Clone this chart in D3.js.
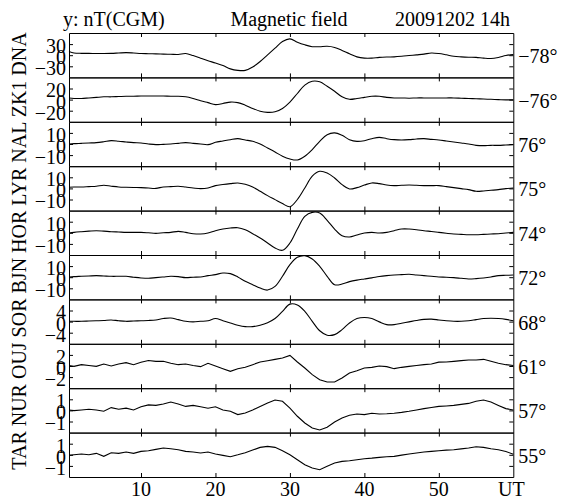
<!DOCTYPE html>
<html>
<head>
<meta charset="UTF-8">
<title>Magnetic field</title>
<script src="https://d3js.org/d3.v7.min.js"></script>
<style>
body { margin: 0; background: #fff; }
svg text { font-family: "Liberation Serif", Tinos, "Times New Roman", "DejaVu Serif", serif; font-size: 20px; fill: #000; }
.axis path, .axis line { stroke: #000; stroke-width: 1; }
.trace { fill: none; stroke: #000; stroke-width: 1.1; }
</style>
</head>
<body>
<svg width="562" height="499" font-family="Liberation Serif, DejaVu Serif, serif"></svg>
<script>
// stations top to bottom, with CGM latitude and y tick step (nT)
var stations = ["DNA", "ZK1", "NAL", "LYR", "HOR", "BJN", "SOR", "OUJ", "NUR", "TAR"]
var latitudes = ["\u221278\u00b0", "\u221276\u00b0", "76\u00b0", "75\u00b0", "74\u00b0", "72\u00b0", "68\u00b0", "61\u00b0", "57\u00b0", "55\u00b0"]
var tickSteps = [30, 20, 10, 10, 10, 10, 4, 2, 1, 1]
var noisy = ["OUJ", "NUR", "TAR"]
var timeTicks = [10, 20, 30, 40, 50]

// sample times, minutes after 14h UT
var minutes = [0.33, 1, 2, 3, 4, 5, 6, 7, 8, 9, 10, 11, 12, 13, 14, 15, 16, 17, 18, 19, 20,
  21, 22, 23, 24, 25, 26, 27, 28, 29, 30, 31, 32, 33, 34, 35, 36, 37, 38, 39, 40,
  41, 42, 43, 44, 45, 46, 47, 48, 49, 50, 51, 52, 53, 54, 55, 56, 57, 58, 59, 60]

var DNA = [10, 6, 5, 5, 4.5, 4.5, 5, 6, 7, 6, 4.5, 4, 3.5, 3, 2.5, 2, 4.5, -1, -8, -15, -21,
  -28, -37, -41, -41, -32, -17, 1, 19, 37, 44, 35, 28, 23, 23, 24, 21, 13, 4, -4.5, -8,
  -8, -6, -5, -4.5, -3, -1, 1, 3, 6, 4.5, 1, -3, -4.5, -5.5, -6, -8, -9, -6, -1, 2]
var ZK1 = [3, 2, 2, 3, 4, 5, 5, 5.5, 6, 6, 6.5, 6.5, 6.5, 6.5, 6, 6, 5, 2, -2, -5.5, -9,
  -7, -4.5, -5.5, -10, -16, -21, -23, -22, -16, -4.5, 11, 26, 33, 32, 24, 15, 5, 0.5, 2, 4,
  6, 6, 4, 3, 3, 2.5, 3, 3, 3, 3, 3, 3, 2.5, 2, 1.5, 1, 0.5, 0, -0.5, -0.5]
var NAL = [0, 0.3, 0.6, 0.9, 1.2, 2, 3, 2.5, 1.8, 1.2, 0.9, 0, -0.6, -0.3, 0, 0.6, 1.2, 0.6, 0, -0.6, 1.5,
  2.7, 3.9, 4.8, 3.6, 2.4, 0, -3.6, -7.2, -11, -13.5, -14.4, -11, -5, 2.4, 8.4, 10, 7.8, 3.9, 2.4, 3,
  4.8, 6, 4.8, 3.9, 3.6, 3.9, 4.5, 4.8, 4.2, 3.6, 2.7, 1.8, 0.9, 0, -1.2, -1.5, -1.2, -1.2, -0.9, -0.6]
var LYR = [1, 1.2, 1.3, 1.6, 1.9, 2.8, 2, 1.3, 1, 0.8, 0.7, 0.3, 0, 1.3, 1.6, 1.9, 1.2, 0.4, -0.2, 0.4, 2.5,
  3.5, 4.3, 4.9, 3.7, 1.3, -2.6, -6.5, -10.1, -13.7, -16.5, -10, 0.4, 11, 15.4, 13.9, 9.4, 3.4, -0.5, 0.7, 3,
  4.9, 4.3, 3, 2.5, 2.8, 3, 2.8, 2.5, 2.5, 2.5, 1.6, 0.7, -0.2, -1.1, -2.6, -2.3, -1.7, -1.1, -0.2, 0.3]
var HOR = [-0.2, 0.4, 1, 1.5, 1.9, 1.5, 1, 0.7, 0.4, 0.4, 0.4, 0, -0.5, 0, 0.4, 1.3, 0.4, -0.8, -1.1, -0.2, 1.9,
  3.4, 4.3, 4.6, 2.8, -0.8, -4.7, -9.2, -13.7, -15.8, -9.2, 3.4, 14.8, 18.4, 17.8, 11.2, 3.4, -2.6, -3.8, -2, -0.2,
  0.4, -0.2, 0.4, 1.9, 3.4, 3.4, 2.8, 1.9, 1.2, 0.4, -0.4, -1.1, -1.4, -1.7, -1.7, -1.4, -1.1, -0.8, -0.2, 0.4]
var BJN = [0.2, 0.5, 0.8, 1.1, 1.4, 1.1, 0.8, 0.8, 0.8, 0, -0.7, -1, -0.4, 0.2, 0.8, 0.5, -0.4, 0, 0.2, 1.4, 2.3,
  3.8, 3.2, 0.2, -3.7, -6.8, -9.8, -11.6, -8.3, 0.8, 11.3, 17.9, 19.4, 16.4, 9.8, 0.8, -6.8, -6.2, -4, -2.6, -1.6,
  -0.6, 0.6, 1.4, 2, 2.3, 2.6, 2, 1.4, 0.8, 0.2, 0, -0.4, -1, -1.6, -1.3, -0.7, 0.2, 1.4, 1.7, 2]
var SOR = [0.1, 0.1, 0.1, 0.2, 0.3, 0.4, 0.6, 0.3, 0.1, 0.2, 0.3, 0.4, 0.6, 1.1, 1.3, 0.7, 0.1, -0.1, 0.1, 0.3, 1.1,
  0.3, -0.5, -1.3, -1.8, -1.8, -1.3, -0.4, 1.1, 3.7, 6.3, 6, 3.7, 0.1, -3.3, -4.9, -4.7, -2.9, -0.5, 1.1, 1.5,
  1.1, -0.1, -1.1, -1.1, -0.6, -0.1, 0.4, 0.8, 0.9, 0.6, 0.3, 0.1, 0.1, 0.3, 0.7, 1.1, 1.2, 1.1, 0.8, 0.3]
var OUJ = [0.1, -0.06, 0.24, 0.1, -0.06, 0.36, 0, 0.36, 0.6, 0.24, 0.66, 1, 0.84, 0.84, 0.48, 0.24, 0.36, 0.1, -0.12, 0.48, 0,
  -0.48, -0.96, -0.48, -0.24, 0.24, 0.72, 0.96, 1.2, 1.44, 1.9, 0.72, -0.36, -1.56, -2.46, -2.88, -2.88, -2.16, -1.26, -0.84, -0.36,
  -0.24, 0, -0.12, -0.48, -0.24, -0.06, 0.1, 0.24, 0.36, 0.7, 0.72, 0.84, 0.96, 1.08, 1.08, 1.2, 0.84, 0.48, 0.24, 0.1]
var NUR = [0.04, -0.02, 0.04, 0.1, 0.04, -0.08, 0.25, 0.1, 0.2, 0.04, 0.33, 0.5, 0.45, 0.57, 0.75, 0.57, 0.36, 0.45, 0.33, 0.2, 0.33,
  0.04, -0.08, -0.38, -0.23, 0.04, 0.36, 0.66, 0.93, 0.82, 0.2, -0.53, -1.13, -1.58, -1.76, -1.52, -1.04, -0.68, -0.44, -0.32, -0.38,
  -0.26, -0.32, -0.3, -0.26, -0.18, -0.08, 0.04, 0.16, 0.26, 0.36, 0.4, 0.45, 0.54, 0.63, 0.82, 0.93, 0.75, 0.45, 0.16, 0.04]
var TAR = [-0.05, 0.01, 0.07, 0, 0.13, -0.14, 0.19, 0.13, 0.25, 0.13, 0.31, 0.37, 0.49, 0.61, 0.55, 0.46, 0.31, 0.25, 0.16, 0.25, 0.07,
  -0.05, -0.17, 0, 0.19, 0.43, 0.67, 0.76, 0.67, 0.37, 0, -0.44, -0.89, -1.19, -1.34, -1.04, -0.74, -0.59, -0.53, -0.44, -0.35,
  -0.3, -0.23, -0.18, -0.14, -0.03, 0.07, 0.16, 0.25, 0.31, 0.37, 0.42, 0.46, 0.53, 0.61, 0.73, 0.67, 0.55, 0.46, 0.3, 0.05]

var series = [DNA, ZK1, NAL, LYR, HOR, BJN, SOR, OUJ, NUR, TAR]

var svg = d3.select("svg")
var plotLeft = 69, plotRight = 513.3, plotTop = 33, plotBottom = 477
var panelH = (plotBottom - plotTop) / stations.length

var x = d3.scaleLinear().domain([0.33, 60]).range([plotLeft, plotRight])

stations.forEach(function(name, i) {
  var y0 = plotTop + i * panelH
  var step = tickSteps[i]
  var y = d3.scaleLinear().domain([-2 * step, 2 * step]).range([y0 + panelH, y0])
  var ticks = [-step, 0, step]

  // time ticks on the panel's top and bottom edge, pointing inward
  svg.append("g").attr("class", "axis")
    .attr("transform", "translate(0," + y0 + ")")
    .call(d3.axisTop(x).tickValues(timeTicks).tickSize(-4).tickSizeOuter(0).tickFormat(""))
  svg.append("g").attr("class", "axis")
    .attr("transform", "translate(0," + (y0 + panelH) + ")")
    .call(d3.axisBottom(x).tickValues(timeTicks).tickSize(-4).tickSizeOuter(0).tickFormat(""))

  var yl = svg.append("g").attr("class", "axis")
    .attr("transform", "translate(" + plotLeft + ",0)")
    .call(d3.axisLeft(y).tickValues(ticks).tickSize(-4).tickSizeOuter(0).tickPadding(3)
      .tickFormat(d3.format("d")))
  yl.attr("font-family", null).attr("font-size", null)
  yl.selectAll("text").attr("dy", "0.42em")

  svg.append("g").attr("class", "axis")
    .attr("transform", "translate(" + plotRight + ",0)")
    .call(d3.axisRight(y).tickValues(ticks).tickSize(-4).tickSizeOuter(0).tickFormat(""))

  var line = d3.line()
    .x(function(d, k) { return x(minutes[k]) })
    .y(function(d) { return y(d) })
    .curve(noisy.indexOf(name) >= 0 ? d3.curveLinear : d3.curveCatmullRom)

  svg.append("path")
    .datum(series[i])
    .attr("class", "trace")
    .attr("d", line)

  svg.append("text")
    .attr("x", plotRight + 5)
    .attr("y", y0 + panelH / 2 + 8)
    .text(latitudes[i])
})

// station names, one rotated string reading bottom to top
svg.append("text")
  .attr("transform", "translate(26,251) rotate(-90)")
  .attr("text-anchor", "middle")
  .text(stations.slice().reverse().join(" "))

// time labels
svg.selectAll(".tlabel")
  .data(timeTicks)
  .enter().append("text")
  .attr("class", "tlabel")
  .attr("x", function(d) { return x(d) })
  .attr("y", 496)
  .attr("text-anchor", "middle")
  .text(function(d) { return d })

svg.append("text")
  .attr("x", x(60) - 2)
  .attr("y", 496)
  .attr("text-anchor", "middle")
  .text("UT")

// header
svg.append("text").attr("x", 63).attr("y", 26).text("y: nT(CGM)")
svg.append("text").attr("x", 289).attr("y", 26).attr("text-anchor", "middle").text("Magnetic field")
svg.append("text").attr("x", 510).attr("y", 26).attr("text-anchor", "end").text("20091202 14h")
</script>
</body>
</html>
